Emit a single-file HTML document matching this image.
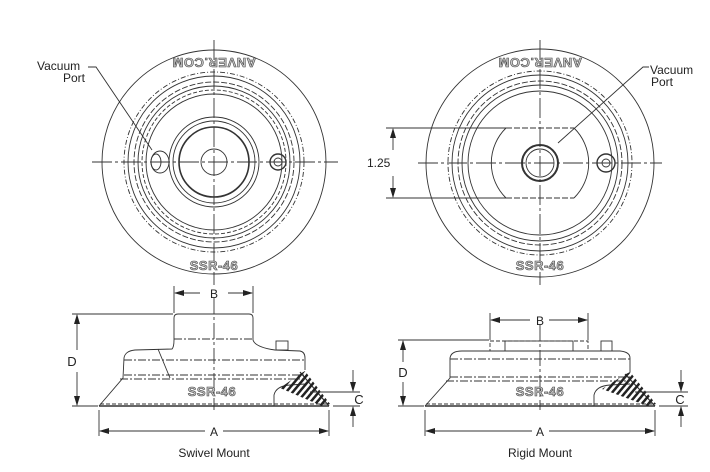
<!DOCTYPE html>
<html><head><meta charset="utf-8"><style>
html,body{margin:0;padding:0;background:#fff;}
svg{display:block;}
text{font-family:"Liberation Sans",sans-serif;fill:#222;}
</style></head><body>
<svg width="710" height="472" viewBox="0 0 710 472" xmlns="http://www.w3.org/2000/svg">
<defs>
<marker id="ar" markerWidth="10" markerHeight="6" refX="9" refY="3" orient="auto" markerUnits="userSpaceOnUse"><path d="M0,0 L10,3 L0,6 z" fill="#222"/></marker>
<pattern id="hatch" width="5" height="5" patternUnits="userSpaceOnUse" patternTransform="rotate(40)"><rect width="2.5" height="5" fill="#222"/></pattern>
</defs>
<g fill="none" stroke="#333" stroke-width="0.9">
<!-- LEFT TOP VIEW -->
<circle cx="214" cy="162" r="112"/>
<circle cx="214" cy="162" r="90" stroke-dasharray="5,2,1,2"/>
<circle cx="214" cy="162" r="86"/>
<circle cx="214" cy="162" r="80" stroke-dasharray="6,2"/>
<circle cx="214" cy="162" r="76"/>
<circle cx="214" cy="162" r="72" stroke-dasharray="4,2"/>
<circle cx="214" cy="162" r="68"/>
<circle cx="214" cy="162" r="45"/>
<circle cx="214" cy="162" r="41"/>
<circle cx="214" cy="162" r="35" stroke-width="1.6"/>
<circle cx="214" cy="162" r="13"/>
<ellipse cx="160" cy="162" rx="9" ry="11"/>
<ellipse cx="156" cy="162" rx="5" ry="8"/>
<circle cx="278" cy="162" r="8" stroke-width="1.4"/>
<circle cx="278" cy="162" r="4"/>
<line x1="92" y1="162" x2="338" y2="162" stroke-dasharray="20,3,3,3"/>
<line x1="214" y1="40" x2="214" y2="285" stroke-dasharray="20,3,3,3"/>
<polyline points="88,67 96,67 152,150"/>
<!-- RIGHT TOP VIEW -->
<circle cx="540" cy="163" r="114"/>
<circle cx="540" cy="163" r="92" stroke-dasharray="5,2,1,2"/>
<circle cx="540" cy="163" r="88"/>
<circle cx="540" cy="163" r="82" stroke-dasharray="6,2"/>
<circle cx="540" cy="163" r="78"/>
<circle cx="540" cy="163" r="72"/>
<path d="M506,128 A49,49 0 0 0 506,198 M574,128 A49,49 0 0 1 574,198"/>
<line x1="506" y1="128" x2="574" y2="128" stroke-dasharray="6,2"/>
<line x1="506" y1="198" x2="574" y2="198" stroke-dasharray="6,2"/>
<circle cx="540" cy="163" r="18" stroke-width="2"/>
<circle cx="540" cy="163" r="14"/>
<circle cx="606" cy="163" r="9" stroke-width="1.4"/>
<circle cx="606" cy="163" r="4"/>
<line x1="418" y1="163" x2="662" y2="163" stroke-dasharray="20,3,3,3"/>
<line x1="540" y1="40" x2="540" y2="285" stroke-dasharray="20,3,3,3"/>
<polyline points="649,67 643,67 558,143"/>
<line x1="386" y1="128" x2="506" y2="128"/>
<line x1="386" y1="198" x2="506" y2="198"/>
<line x1="393" y1="150" x2="393" y2="129" marker-end="url(#ar)"/>
<line x1="393" y1="176" x2="393" y2="197" marker-end="url(#ar)"/>
<!-- LEFT SIDE VIEW -->
<path d="M99,406 L123,378 L124,358 Q125,351 135,350 L172,349 Q174,347 174,340 L174,318 Q174,314 178,314 L249,314 Q253,314 253,318 L253,340 Q255,347 275,350 L300,351 Q305,352 305,358 L305,370"/>
<line x1="99" y1="406" x2="329" y2="406" stroke-width="1.4"/>
<path d="M274,406 L274,395 Q276,386 290,385 L305,384"/>
<path d="M300,372 L329,406" stroke-width="1.2"/>
<path d="M280,388 L300,374 L305,371 L330,404 L322,406 Z" fill="url(#hatch)" stroke="none"/>
<line x1="124" y1="360" x2="305" y2="360" stroke-dasharray="8,2,2,2"/>
<line x1="124" y1="375" x2="305" y2="375" stroke-dasharray="8,2,2,2"/>
<line x1="120" y1="379" x2="305" y2="379" stroke-dasharray="8,2,2,2"/>
<line x1="174" y1="339" x2="253" y2="339" stroke-dasharray="8,2,2,2"/>
<line x1="100" y1="404" x2="328" y2="404" stroke-dasharray="4,2"/>
<path d="M158,349 L170,378"/>
<rect x="276" y="341" width="12" height="9"/>
<line x1="214" y1="298" x2="214" y2="410" stroke-dasharray="16,3,3,3"/>
<line x1="174" y1="286" x2="174" y2="313"/>
<line x1="253" y1="286" x2="253" y2="313"/>
<line x1="200" y1="293" x2="175" y2="293" marker-end="url(#ar)"/>
<line x1="228" y1="293" x2="252" y2="293" marker-end="url(#ar)"/>
<line x1="72" y1="314" x2="173" y2="314"/>
<line x1="72" y1="406" x2="98" y2="406"/>
<line x1="77" y1="350" x2="77" y2="315" marker-end="url(#ar)"/>
<line x1="77" y1="372" x2="77" y2="405" marker-end="url(#ar)"/>
<line x1="99" y1="410" x2="99" y2="436"/>
<line x1="329" y1="410" x2="329" y2="436"/>
<line x1="205" y1="431" x2="100" y2="431" marker-end="url(#ar)"/>
<line x1="223" y1="431" x2="328" y2="431" marker-end="url(#ar)"/>
<line x1="310" y1="392" x2="360" y2="392"/>
<line x1="333" y1="406" x2="360" y2="406"/>
<line x1="353" y1="370" x2="353" y2="391" marker-end="url(#ar)"/>
<line x1="353" y1="427" x2="353" y2="407" marker-end="url(#ar)"/>
<!-- RIGHT SIDE VIEW -->
<path d="M425,406 L450,378 L450,358 Q451,351 462,351 L620,351 Q630,352 630,358 L630,372"/>
<line x1="425" y1="406" x2="655" y2="406" stroke-width="1.4"/>
<path d="M594,406 L594,395 Q596,386 610,385 L630,384"/>
<path d="M625,374 L655,406" stroke-width="1.2"/>
<path d="M602,389 L624,375 L630,372 L656,404 L648,406 Z" fill="url(#hatch)" stroke="none"/>
<rect x="490" y="341" width="98" height="10" stroke-dasharray="4,2"/>
<rect x="505" y="341" width="68" height="10"/>
<rect x="601" y="341" width="11" height="10"/>
<line x1="450" y1="359" x2="630" y2="359" stroke-dasharray="8,2,2,2"/>
<line x1="450" y1="377" x2="630" y2="377" stroke-dasharray="8,2,2,2"/>
<line x1="446" y1="381" x2="630" y2="381" stroke-dasharray="8,2,2,2"/>
<line x1="426" y1="404" x2="654" y2="404" stroke-dasharray="4,2"/>
<line x1="540" y1="325" x2="540" y2="410" stroke-dasharray="16,3,3,3"/>
<line x1="490" y1="313" x2="490" y2="340"/>
<line x1="588" y1="313" x2="588" y2="340"/>
<line x1="530" y1="320" x2="491" y2="320" marker-end="url(#ar)"/>
<line x1="549" y1="320" x2="587" y2="320" marker-end="url(#ar)"/>
<line x1="398" y1="340" x2="489" y2="340"/>
<line x1="398" y1="406" x2="424" y2="406"/>
<line x1="403" y1="362" x2="403" y2="341" marker-end="url(#ar)"/>
<line x1="403" y1="382" x2="403" y2="405" marker-end="url(#ar)"/>
<line x1="425" y1="410" x2="425" y2="436"/>
<line x1="655" y1="410" x2="655" y2="436"/>
<line x1="532" y1="431" x2="426" y2="431" marker-end="url(#ar)"/>
<line x1="549" y1="431" x2="654" y2="431" marker-end="url(#ar)"/>
<line x1="635" y1="392" x2="688" y2="392"/>
<line x1="659" y1="406" x2="688" y2="406"/>
<line x1="681" y1="370" x2="681" y2="391" marker-end="url(#ar)"/>
<line x1="681" y1="427" x2="681" y2="407" marker-end="url(#ar)"/>
</g>
<!-- embossed texts -->
<g font-weight="bold" stroke="#444" stroke-width="0.6" font-size="13" text-anchor="middle" letter-spacing="0.5">
<text x="214" y="68" transform="rotate(180 214 63)" style="fill:#c8c8c8">ANVER.COM</text>
<text x="540" y="68" transform="rotate(180 540 63)" style="fill:#c8c8c8">ANVER.COM</text>
<text x="214" y="270" style="fill:#c8c8c8">SSR-46</text>
<text x="540" y="270" style="fill:#c8c8c8">SSR-46</text>
<text x="212" y="396" style="fill:#c8c8c8">SSR-46</text>
<text x="540" y="396" style="fill:#c8c8c8">SSR-46</text>
</g>
<g font-size="12">
<text x="37" y="70">Vacuum</text>
<text x="63" y="82">Port</text>
<text x="650" y="74">Vacuum</text>
<text x="651" y="86">Port</text>
<text x="367" y="167">1.25</text>
<text x="214" y="298" text-anchor="middle">B</text>
<text x="540" y="325" text-anchor="middle">B</text>
<text x="72" y="366" text-anchor="middle" font-size="13">D</text>
<text x="403" y="377" text-anchor="middle" font-size="13">D</text>
<text x="214" y="436" text-anchor="middle">A</text>
<text x="540" y="436" text-anchor="middle">A</text>
<text x="359" y="404" text-anchor="middle" font-size="13">C</text>
<text x="680" y="404" text-anchor="middle" font-size="13">C</text>
<text x="214" y="457" text-anchor="middle">Swivel Mount</text>
<text x="540" y="457" text-anchor="middle">Rigid Mount</text>
</g>
</svg>
</body></html>
